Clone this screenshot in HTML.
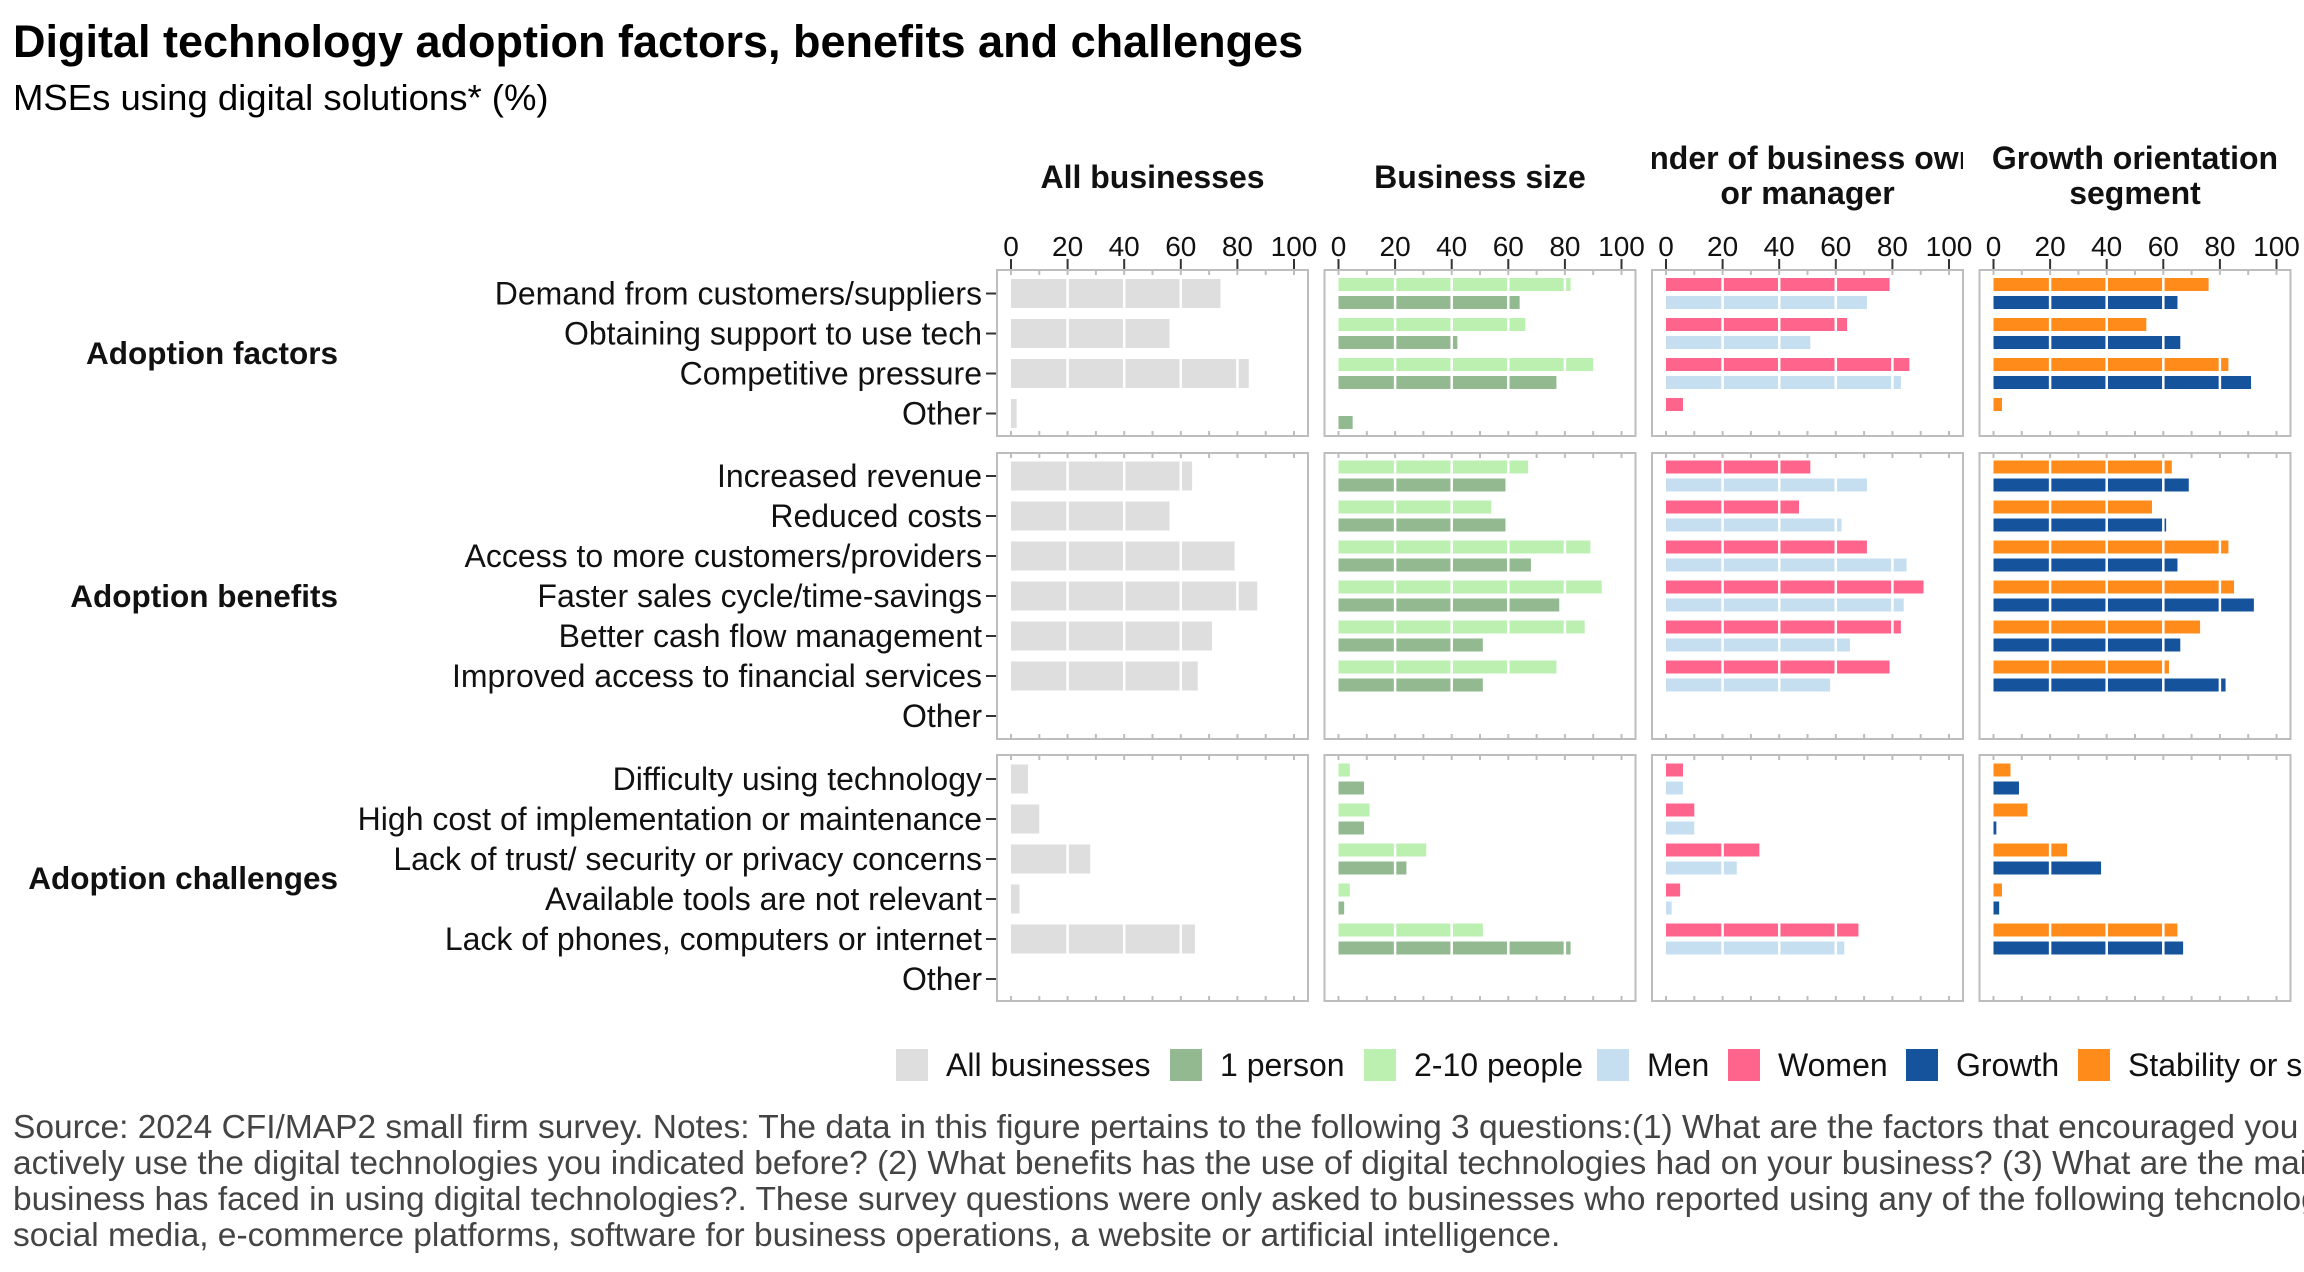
<!DOCTYPE html>
<html><head><meta charset="utf-8">
<style>
html,body{margin:0;padding:0;background:#fff;}
body{width:2304px;height:1267px;overflow:hidden;font-family:"Liberation Sans",sans-serif;}
svg text{font-family:"Liberation Sans",sans-serif;}
</style></head>
<body>
<svg id="chart" width="2304" height="1267" viewBox="0 0 2304 1267" xmlns="http://www.w3.org/2000/svg">
<text x="13" y="57" font-size="45" font-weight="bold" fill="#000">Digital technology adoption factors, benefits and challenges</text>
<text x="13" y="110" font-size="36.5" fill="#000">MSEs using digital solutions* (%)</text>
<g id="plot"></g>
<g id="legend"></g>
<g font-size="33.5" fill="#444">
<text x="13" y="1138">Source: 2024 CFI/MAP2 small firm survey. Notes: The data in this figure pertains to the following 3 questions:(1) What are the factors that encouraged you to</text>
<text x="13" y="1174">actively use the digital technologies you indicated before? (2) What benefits has the use of digital technologies had on your business? (3) What are the main challenges your</text>
<text x="13" y="1210">business has faced in using digital technologies?. These survey questions were only asked to businesses who reported using any of the following tehcnologies:</text>
<text x="13" y="1246">social media, e-commerce platforms, software for business operations, a website or artificial intelligence.</text>
</g>
</svg>
<script>
const groups = ["Adoption factors","Adoption benefits","Adoption challenges"];
const catsFactors = ["Demand from customers/suppliers","Obtaining support to use tech","Competitive pressure","Other"];
const catsBenefits = ["Increased revenue","Reduced costs","Access to more customers/providers","Faster sales cycle/time-savings","Better cash flow management","Improved access to financial services","Other"];
const catsChallenges = ["Difficulty using technology","High cost of implementation or maintenance","Lack of trust/ security or privacy concerns","Available tools are not relevant","Lack of phones, computers or internet","Other"];
const panelTitles = [["All businesses"],["Business size"],["Gender of business owner","or manager"],["Growth orientation","segment"]];
const ticks = [0,20,40,60,80,100];
const allBiz = [[74,56,84,2],[64,56,79,87,71,66,0],[6,10,28,3,65,0]];
const twoToTen = [[82,66,90,0],[67,54,89,93,87,77,0],[4,11,31,4,51,0]];
const onePerson = [[64,42,77,5],[59,59,68,78,51,51,0],[9,9,24,2,82,0]];
const women = [[79,64,86,6],[51,47,71,91,83,79,0],[6,10,33,5,68,0]];
const men = [[71,51,83,0],[71,62,85,84,65,58,0],[6,10,25,2,63,0]];
const stability = [[76,54,83,3],[63,56,83,85,73,62,0],[6,12,26,3,65,0]];
const growth = [[65,66,91,0],[69,61,65,92,66,82,0],[9,1,38,2,67,0]];
const legendLabels = ["All businesses","1 person","2-10 people","Men","Women","Growth","Stability or survival"];

const NS="http://www.w3.org/2000/svg";
const plot=document.getElementById('plot');
function mk(tag,attrs,parent){const e=document.createElementNS(NS,tag);for(const k in attrs)e.setAttribute(k,attrs[k]);(parent||plot).appendChild(e);return e;}
const C={all:"#dedede",one:"#93b991",two:"#bbf0b0",men:"#c6dff0",women:"#ff648c",growth:"#15539d",stab:"#ff8c1a"};
const panelZero=[1011,1338.5,1666,1993.5];
const pxPer=2.83;
function xS(p,v){return panelZero[p]+v*pxPer;}
const groupCats=[catsFactors,catsBenefits,catsChallenges];
const groupBox=[[270,436],[453,739],[755,1001]];
const groupStart=[293.5,476,779];
const rowStep=40;
function yS(g,i){return groupStart[g]+i*rowStep;}

const defs=mk('defs',{});
panelTitles.forEach((lines,p)=>{
  const cp=mk('clipPath',{id:'cp'+p},defs);
  mk('rect',{x:panelZero[p]-14,y:120,width:311,height:100},cp);
  const cx=xS(p,50);
  const t=mk('text',{x:cx,'text-anchor':'middle','font-size':32,'font-weight':'bold',fill:'#111','clip-path':'url(#cp'+p+')'});
  
  
  if(lines.length===1){t.setAttribute('y',188);t.textContent=lines[0];}
  else lines.forEach((l,k)=>{const ts=mk('tspan',{x:cx,y:169+k*35},t);ts.textContent=l;});
  ticks.forEach(v=>{
    const tt=mk('text',{x:xS(p,v),y:256,'text-anchor':'middle','font-size':28,fill:'#111'});
    
    
    tt.textContent=v;
    mk('line',{x1:xS(p,v),x2:xS(p,v),y1:259,y2:269,stroke:'#333','stroke-width':2});
  });
});

groups.forEach((gname,g)=>{
  const [y0,y1]=groupBox[g];
  const gl=mk('text',{x:338,y:(y0+y1)/2+11,'text-anchor':'end','font-size':31.5,'font-weight':'bold',fill:'#111'});
  
  
  gl.textContent=gname;
  groupCats[g].forEach((c,i)=>{
    const t=mk('text',{x:982,y:yS(g,i)+11,'text-anchor':'end','font-size':32,fill:'#111'});
    
    
    t.textContent=c;
    mk('line',{x1:986,x2:996,y1:yS(g,i),y2:yS(g,i),stroke:'#333','stroke-width':2});
  });
  for(let p=0;p<4;p++){
    const bx=panelZero[p]-14;
    const box=mk('rect',{x:bx,y:y0,width:311,height:y1-y0,fill:'#fff',stroke:'#bdbdbd','stroke-width':2});
    
    
    for(let v=0;v<=100;v+=10){
      mk('line',{x1:xS(p,v),x2:xS(p,v),y1:y0,y2:y0+5,stroke:'#bdbdbd','stroke-width':2});
      mk('line',{x1:xS(p,v),x2:xS(p,v),y1:y1-5,y2:y1,stroke:'#bdbdbd','stroke-width':2});
    }
    groupCats[g].forEach((c,i)=>{
      const cy=yS(g,i);
      let bars;
      if(p===0) bars=[[allBiz[g][i],C.all,cy-14.5,29,'bar-all-businesses']];
      else if(p===1) bars=[[twoToTen[g][i],C.two,cy-15.5,13,'bar-2-10-people'],[onePerson[g][i],C.one,cy+2.5,13,'bar-1-person']];
      else if(p===2) bars=[[women[g][i],C.women,cy-15.5,13,'bar-women'],[men[g][i],C.men,cy+2.5,13,'bar-men']];
      else bars=[[stability[g][i],C.stab,cy-15.5,13,'bar-stability'],[growth[g][i],C.growth,cy+2.5,13,'bar-growth']];
      bars.forEach(b=>{
        if(b[0]<=0) return;
        const r=mk('rect',{x:xS(p,0),y:b[2],width:xS(p,b[0])-xS(p,0),height:b[3],fill:b[1]});
        
        
        for(let v=20;v<100;v+=20){ if(v<b[0]) mk('line',{x1:xS(p,v),x2:xS(p,v),y1:b[2],y2:b[2]+b[3],stroke:'#fff','stroke-width':2.5}); }
      });
    });
  }
});

const lg=document.getElementById('legend');
const legCols=[C.all,C.one,C.two,C.men,C.women,C.growth,C.stab];
const legBoxX=[896,1170,1364,1597,1728,1906,2078];
legendLabels.forEach((l,k)=>{
  const r=mk('rect',{x:legBoxX[k],y:1049,width:32,height:32,fill:legCols[k]},lg);
  
  
  const t=mk('text',{x:legBoxX[k]+50,y:1076,'font-size':32,fill:'#111'},lg);
  
  
  t.textContent=l;
});
</script>
</body></html>
